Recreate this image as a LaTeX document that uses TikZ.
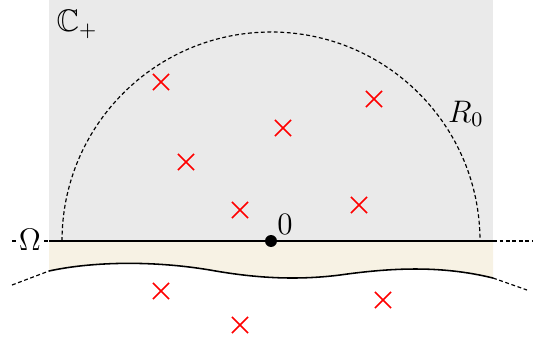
\documentclass[tikz,border=0pt]{standalone}
\usepackage{amssymb}
\usetikzlibrary{shapes.misc}
\definecolor{bggray}{RGB}{234,234,234}
\definecolor{sand}{RGB}{247,242,228}
\tikzset{
  pole/.style={cross out,draw=red,minimum size=5.6pt,inner sep=0pt,line width=0.6pt},
  orig/.style={circle,fill=black,inner sep=0pt,minimum size=4.6pt},
  thin dashed/.style={dash pattern=on 1.5pt off 1pt,line width=0.45pt},
  axisline/.style={line width=0.6pt},
  lbl/.style={font=\large}
}
\begin{document}
\begin{tikzpicture}[x=0.385pt,y=-0.385pt]
\useasboundingbox (0,0) rectangle (546,342);
% regions
\fill[bggray] (49,0) rectangle (493,241);
\fill[sand] (49,271) .. controls (90,262) and (150,260) .. (210,270) .. controls (260,279) and (300,280) .. (340,275) .. controls (390,268) and (440,265) .. (493,278) -- (493,241) -- (49,241) -- cycle;
% coordinates
\coordinate (L) at (49,241);
\coordinate (R) at (493,241);
\coordinate (Lfar) at (12,241);
\coordinate (Rfar) at (532,241);
\coordinate (BL) at (49,271);
\coordinate (BR) at (493,278);
\coordinate (BLfar) at (12,285);
\coordinate (BRfar) at (527,290);
\coordinate (A) at (62,241);
% boundary curve
\draw[line width=0.6pt] (BL) .. controls (90,262) and (150,260) .. (210,270) .. controls (260,279) and (300,280) .. (340,275) .. controls (390,268) and (440,265) .. (BR);
\draw[thin dashed] (BLfar) -- (BL);
\draw[thin dashed] (BR) -- (BRfar);
% real axis
\draw[thin dashed] (Lfar) -- (L);
\draw[thin dashed] (R) -- (Rfar);
\draw[axisline] (L) -- (R);
\node[lbl,fill=white,inner sep=1pt] (om) at (30,240) {$\Omega$};
% semicircle
\draw[thin dashed] (A) arc (180:360:209);
% origin
\node[orig] (o) at (271,241) {};
\node[lbl] (zero) at (285,224) {$0$};
% labels
\node[lbl] (cp) at (77,24) {$\mathbb{C}_+$};
\node[lbl] (r0) at (466,114) {$R_0$};
% poles
\node[pole] (p1) at (161,82) {};
\node[pole] (p2) at (374,99) {};
\node[pole] (p3) at (283,128) {};
\node[pole] (p4) at (186,162) {};
\node[pole] (p5) at (240,210) {};
\node[pole] (p6) at (359,205) {};
\node[pole] (p7) at (161,291) {};
\node[pole] (p8) at (383,300) {};
\node[pole] (p9) at (240,325) {};
\end{tikzpicture}
\end{document}
